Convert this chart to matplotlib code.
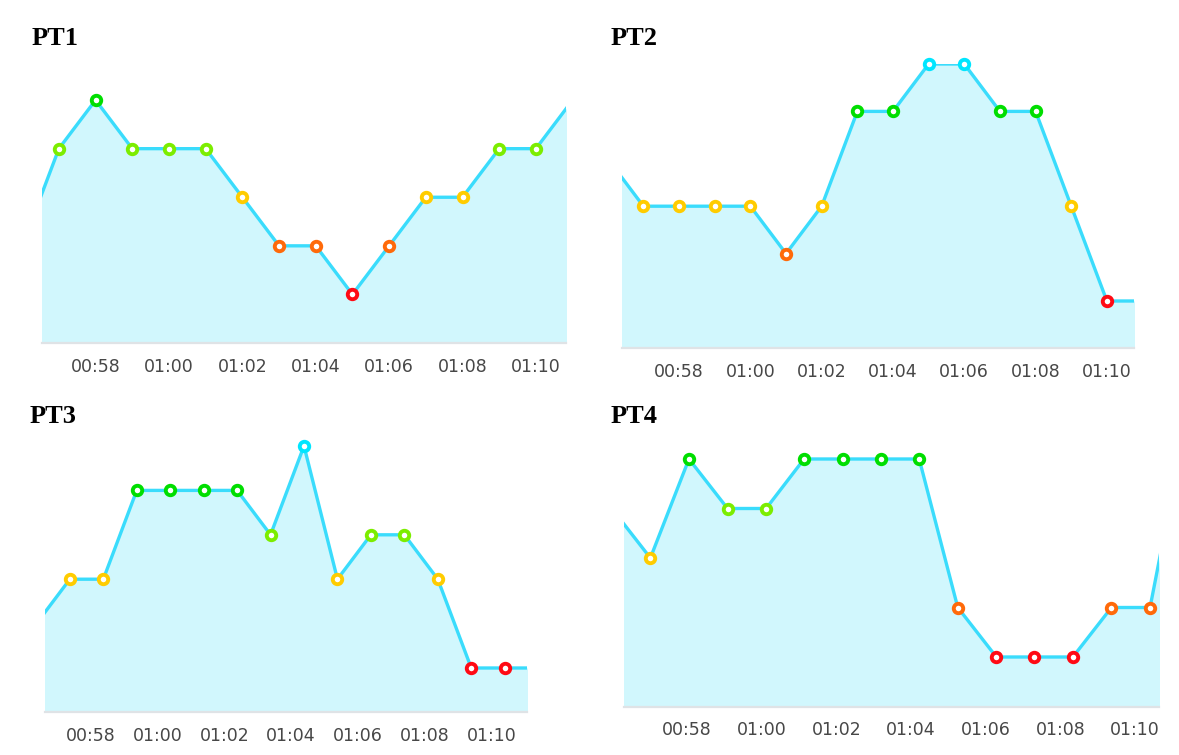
import matplotlib
matplotlib.use("Agg")
import matplotlib.pyplot as plt

# four panels, level 1..6 per sample
pt1_times = ["00:56:00", "00:57:00", "00:58:00", "00:59:00", "01:00:00", "01:01:00", "01:02:00", "01:03:00",
             "01:04:00", "01:05:00", "01:06:00", "01:07:00", "01:08:00", "01:09:00", "01:10:00", "01:11:00"]
pt1_levels = [2, 4, 5, 4, 4, 4, 3, 2, 2, 1, 2, 3, 3, 4, 4, 5]

pt2_times = pt1_times
pt2_levels = [4, 3, 3, 3, 3, 2, 3, 5, 5, 6, 6, 5, 5, 3, 1, 1]

pt3_times = ["00:56:23", "00:57:23", "00:58:23", "00:59:23", "01:00:23", "01:01:23", "01:02:23", "01:03:23",
             "01:04:23", "01:05:23", "01:06:23", "01:07:23", "01:08:23", "01:09:23", "01:10:23", "01:11:23"]
pt3_levels = [2, 3, 3, 5, 5, 5, 5, 4, 6, 3, 4, 4, 3, 1, 1, 1]

pt4_times = ["00:55:59", "00:57:01", "00:58:03", "00:59:05", "01:00:07", "01:01:08", "01:02:10", "01:03:12",
             "01:04:13", "01:05:15", "01:06:17", "01:07:18", "01:08:20", "01:09:22", "01:10:24", "01:11:26"]
pt4_levels = [4, 3, 5, 4, 4, 5, 5, 5, 5, 2, 1, 1, 1, 2, 2, 6]

titles = ["PT1", "PT2", "PT3", "PT4"]
tick_minutes = [58, 60, 62, 64, 66, 68, 70]

level_colors = {1: "#ff0a14", 2: "#ff6a0a", 3: "#ffcc00", 4: "#7ced00", 5: "#00de00", 6: "#00e6ff"}
line_color = "#3adcfc"
fill_color = "#d1f7fd"

W, H = 1179, 755


def to_min(s):
    h, m, sec = s.split(":")
    return int(h) * 60 + int(m) + int(sec) / 60


# pixel boxes: x0, x1, y(level 0), y(level 6), xlim, title pos
panels = [
    (pt1_times, pt1_levels, 42, 566, 343, 51.5, (56.54, 70.82), (32, 45)),
    (pt2_times, pt2_levels, 622, 1134, 348.4, 64, (56.40, 70.76), (611, 45)),
    (pt3_times, pt3_levels, 45, 527, 712.4, 446, (56.64, 71.05), (30, 423)),
    (pt4_times, pt4_levels, 624, 1159, 706.5, 409.5, (56.31, 70.64), (611, 423)),
]

fig = plt.figure(figsize=(W / 100, H / 100), dpi=100)

for title, (times, levels, x0, x1, yb, yt, xlim, tpos) in zip(titles, panels):
    ax = fig.add_axes([x0 / W, 1 - yb / H, (x1 - x0) / W, (yb - yt) / H])
    x = [to_min(t) for t in times]
    ax.fill_between(x, 0, levels, color=fill_color, lw=0)
    ax.plot(x, levels, color=line_color, lw=2.4, solid_joinstyle="round")
    for xi, lv in zip(x, levels):
        if xlim[0] <= xi <= xlim[1]:
            ax.plot(xi, lv, "o", ms=6.8, mew=2.8, mfc="white", mec=level_colors[lv],
                    clip_on=False, zorder=5)
    ax.set_xlim(*xlim)
    ax.set_ylim(0, 6)
    ax.set_yticks([])
    ax.set_xticks(tick_minutes)
    ax.set_xticklabels([f"{m // 60:02d}:{m % 60:02d}" for m in tick_minutes])
    ax.tick_params(axis="x", length=0, pad=10.5, labelsize=12.5, labelcolor="#474747")
    for s in ["top", "left", "right"]:
        ax.spines[s].set_visible(False)
    ax.spines["bottom"].set_color("#dfe3e6")
    ax.spines["bottom"].set_linewidth(1.6)
    ax.patch.set_alpha(0)
    fig.text(tpos[0] / W, 1 - tpos[1] / H, title, fontsize=19, fontweight="bold",
             family="Liberation Serif", va="baseline", ha="left")

fig.savefig("out.png", dpi=100)
